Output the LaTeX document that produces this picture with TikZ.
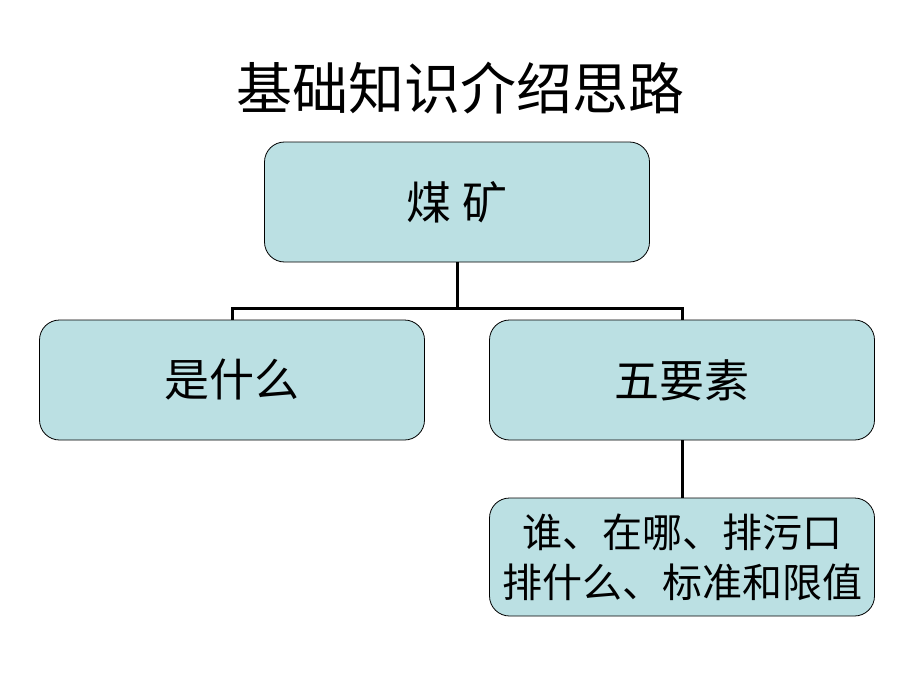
\documentclass[tikz,border=0pt]{standalone}
\usepackage{fontspec}
\setmainfont{Noto Sans CJK SC}
\definecolor{boxfill}{RGB}{187,224,227}
\tikzset{
  topic/.style={draw=black, line width=0.8pt, fill=boxfill, rounded corners=20pt,
                minimum width=385pt, minimum height=120pt, font=\fontsize{45}{55}\selectfont,
                align=center, inner sep=0pt},
  link/.style={line width=3pt}
}
\begin{document}
\begin{tikzpicture}[x=1pt, y=-1pt]
      \useasboundingbox (0, 0) rectangle (920, 690);
      \node (title) at (460, 88) {\fontsize{56}{66}\selectfont 基础知识介绍思路};
      \node[topic] (coal) at (457, 202) {煤\hspace{12pt}矿};
      \node[topic] (what) at (232, 380) {是什么};
      \node[topic] (five) at (682, 380) {五要素};
      \node[topic, minimum height=118pt, font=\fontsize{40}{50}\selectfont] (detail) at (682, 557)
            {谁、在哪、排污口\\排什么、标准和限值};
      \coordinate (fork) at (457, 308);
      \draw[link] (coal) -- (fork) -| (what)
                  (fork) -| (five)
                  (five) -- (detail);
\end{tikzpicture}
\end{document}
